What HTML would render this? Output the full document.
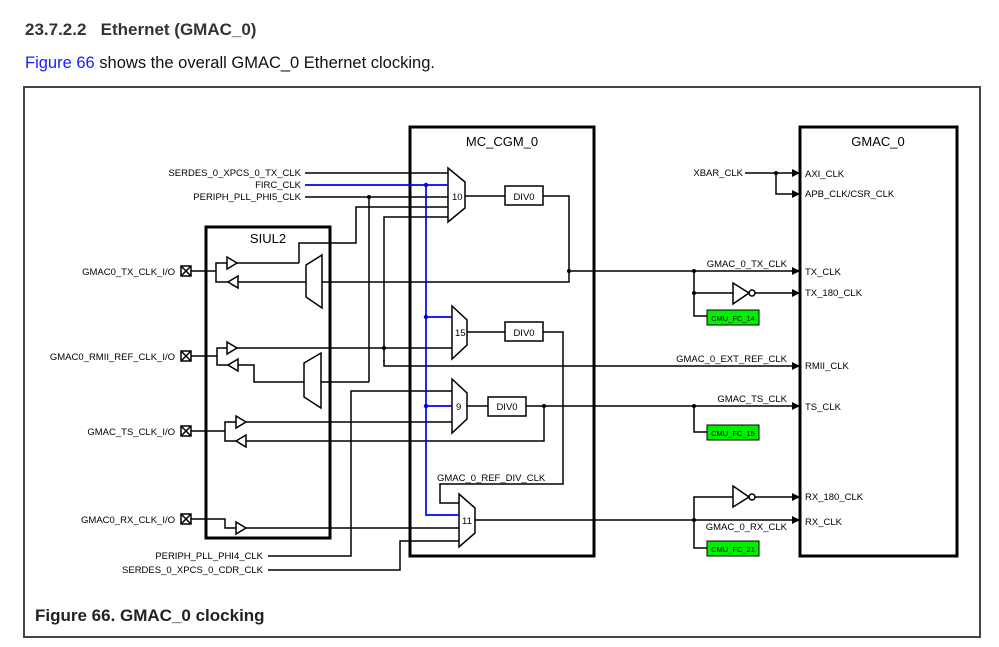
<!DOCTYPE html>
<html><head><meta charset="utf-8"><style>
html,body{margin:0;padding:0;background:#fff;}
body{width:999px;height:647px;overflow:hidden;position:relative;font-family:"Liberation Sans",Arial,sans-serif;}
</style></head><body>
<svg width="999" height="647" viewBox="0 0 999 647" xmlns="http://www.w3.org/2000/svg" style="position:absolute;left:0;top:0" font-family="Liberation Sans, Arial, sans-serif">
<text x="25" y="35" font-size="17" font-weight="bold" fill="#333" xml:space="preserve">23.7.2.2   Ethernet (GMAC_0)</text>
<text x="25" y="68" font-size="16.5" fill="#111"><tspan fill="#1a1aff">Figure 66</tspan> shows the overall GMAC_0 Ethernet clocking.</text>
<rect x="24" y="87" width="956" height="550" fill="none" stroke="#444" stroke-width="2"/>
<text x="35" y="621" font-size="17" font-weight="bold" fill="#222">Figure 66.  GMAC_0 clocking</text>

<rect x="410" y="127" width="184" height="429" fill="none" stroke="#000" stroke-width="3"/>
<text x="502" y="146" font-size="13" text-anchor="middle">MC_CGM_0</text>
<rect x="800" y="127" width="157" height="429" fill="none" stroke="#000" stroke-width="3"/>
<text x="878" y="146" font-size="13" text-anchor="middle">GMAC_0</text>
<rect x="206" y="227" width="124" height="311" fill="none" stroke="#000" stroke-width="3"/>
<text x="268" y="243" font-size="13" text-anchor="middle">SIUL2</text>

<g stroke="#000" stroke-width="1.5" fill="none">
<line x1="305" y1="173" x2="448" y2="173"/>
<line x1="305" y1="197" x2="448" y2="197"/>
<polyline points="299,263 299,243 356,243 356,207 448,207"/>
<polyline points="384,362 384,217 448,217"/>
<line x1="369" y1="197" x2="369" y2="382"/>
<polygon points="448,168 465,182 465,208 448,222" fill="#fff"/>
<line x1="465" y1="196" x2="505" y2="196"/>
<rect x="505" y="186" width="38" height="19"/>
<polyline points="543,196 569,196 569,282 322,282"/>
<line x1="569" y1="271" x2="800" y2="271"/>
<rect x="181" y="266" width="10" height="10"/>
<line x1="181" y1="266" x2="191" y2="276"/><line x1="191" y1="266" x2="181" y2="276"/>
<polyline points="191,271 216,271"/>
<polyline points="227,263 216,263 216,282 228,282"/>
<polygon points="227,257 237,263 227,269"/>
<polygon points="238,276 228,282 238,288"/>
<line x1="237" y1="263" x2="299" y2="263"/>
<line x1="238" y1="282" x2="306" y2="282"/>
<polygon points="306,265 322,255 322,308 306,297"/>
<rect x="181" y="351" width="10" height="10"/>
<line x1="181" y1="351" x2="191" y2="361"/><line x1="191" y1="351" x2="181" y2="361"/>
<line x1="191" y1="356" x2="217" y2="356"/>
<polyline points="227,348 217,348 217,365 228,365"/>
<polygon points="227,342 237,348 227,354"/>
<polygon points="238,359 228,365 238,371"/>
<line x1="237" y1="348" x2="452" y2="348"/>
<polyline points="238,365 254,365 254,382 304,382"/>
<polygon points="304,363 321,353 321,408 304,397"/>
<line x1="321" y1="382" x2="369" y2="382"/>
<polyline points="384,360 384,366 800,366"/>
<polygon points="452,306 467,320 467,345 452,359" fill="#fff"/>
<line x1="467" y1="332" x2="505" y2="332"/>
<rect x="505" y="322" width="38" height="19"/>
<polyline points="543,332 563,332 563,484 440,484 440,503 459,503"/>
<polyline points="452,391 351,391 351,556 268,556"/>
<polygon points="452,379 467,393 467,419 452,433" fill="#fff"/>
<line x1="467" y1="406" x2="488" y2="406"/>
<rect x="488" y="397" width="38" height="19"/>
<line x1="526" y1="406" x2="800" y2="406"/>
<polyline points="544,406 544,441 246,441"/>
<rect x="181" y="426" width="10" height="10"/>
<line x1="181" y1="426" x2="191" y2="436"/><line x1="191" y1="426" x2="181" y2="436"/>
<line x1="191" y1="431" x2="225" y2="431"/>
<polyline points="236,422 225,422 225,441 236,441"/>
<polygon points="236,416 246,422 236,428"/>
<polygon points="246,435 236,441 246,447"/>
<line x1="246" y1="422" x2="452" y2="422"/>
<rect x="181" y="514" width="10" height="10"/>
<line x1="181" y1="514" x2="191" y2="524"/><line x1="191" y1="514" x2="181" y2="524"/>
<polyline points="191,519 225,519 225,528 236,528"/>
<polygon points="236,522 246,528 236,534"/>
<line x1="246" y1="528" x2="459" y2="528"/>
<polyline points="268,570 400,570 400,541 459,541"/>
<polygon points="459,494 475,508 475,533 459,547" fill="#fff"/>
<line x1="475" y1="520" x2="800" y2="520"/>
<line x1="745" y1="173" x2="796" y2="173"/>
<polyline points="776,173 776,194 796,194"/>
<polyline points="694,271 694,316 707,316"/>
<line x1="694" y1="293" x2="733" y2="293"/>
<polygon points="733,283 749,293 733,304"/>
<circle cx="752" cy="293" r="3"/>
<line x1="755" y1="293" x2="796" y2="293"/>
<polyline points="694,406 694,432 707,432"/>
<polyline points="796,497 755,497"/>
<polygon points="733,486 749,497 733,507"/>
<circle cx="752" cy="497" r="3"/>
<polyline points="733,497 694,497 694,548 707,548"/>
</g>
<g stroke="#0000ff" stroke-width="1.7" fill="none">
<line x1="305" y1="185" x2="448" y2="185"/>
<polyline points="426,185 426,515 459,515"/>
<line x1="426" y1="317" x2="452" y2="317"/>
<line x1="426" y1="406" x2="452" y2="406"/>
</g>
<g fill="#0000ff"><circle cx="426" cy="185" r="2.2"/><circle cx="426" cy="317" r="2.2"/><circle cx="426" cy="406" r="2.2"/></g>
<g fill="#000">
<circle cx="369" cy="197" r="2"/><circle cx="384" cy="348" r="2"/><circle cx="569" cy="271" r="2"/>
<circle cx="544" cy="406" r="2"/><circle cx="776" cy="173" r="2"/><circle cx="694" cy="271" r="2"/>
<circle cx="694" cy="293" r="2"/><circle cx="694" cy="406" r="2"/><circle cx="694" cy="520" r="2"/>
<polygon points="792,169 800,173 792,177"/><polygon points="792,190 800,194 792,198"/>
<polygon points="792,267 800,271 792,275"/><polygon points="792,289 800,293 792,297"/>
<polygon points="792,362 800,366 792,370"/><polygon points="792,402 800,406 792,410"/>
<polygon points="792,493 800,497 792,501"/><polygon points="792,516 800,520 792,524"/>
</g>
<g fill="#00ee00" stroke="#000" stroke-width="1">
<rect x="707" y="310" width="52" height="15"/><rect x="707" y="425" width="52" height="15"/><rect x="707" y="541" width="52" height="15"/>
</g>
<g font-size="7.5" text-anchor="middle">
<text x="733" y="321">CMU_FC_14</text><text x="733" y="436">CMU_FC_15</text><text x="733" y="552">CMU_FC_21</text>
</g>
<g font-size="9.5">
<text x="301" y="176" text-anchor="end">SERDES_0_XPCS_0_TX_CLK</text>
<text x="301" y="188" text-anchor="end">FIRC_CLK</text>
<text x="301" y="200" text-anchor="end">PERIPH_PLL_PHI5_CLK</text>
<text x="175" y="275" text-anchor="end">GMAC0_TX_CLK_I/O</text>
<text x="175" y="360" text-anchor="end">GMAC0_RMII_REF_CLK_I/O</text>
<text x="175" y="435" text-anchor="end">GMAC_TS_CLK_I/O</text>
<text x="175" y="523" text-anchor="end">GMAC0_RX_CLK_I/O</text>
<text x="263" y="559" text-anchor="end">PERIPH_PLL_PHI4_CLK</text>
<text x="263" y="573" text-anchor="end">SERDES_0_XPCS_0_CDR_CLK</text>
<text x="452" y="200">10</text><text x="455" y="336">15</text><text x="456" y="410">9</text><text x="462" y="524">11</text>
<text x="524" y="200" text-anchor="middle">DIV0</text><text x="524" y="336" text-anchor="middle">DIV0</text><text x="507" y="410" text-anchor="middle">DIV0</text>
<text x="437" y="481">GMAC_0_REF_DIV_CLK</text>
<text x="743" y="176" text-anchor="end">XBAR_CLK</text>
<text x="787" y="267" text-anchor="end">GMAC_0_TX_CLK</text>
<text x="787" y="362" text-anchor="end">GMAC_0_EXT_REF_CLK</text>
<text x="787" y="402" text-anchor="end">GMAC_TS_CLK</text>
<text x="787" y="530" text-anchor="end">GMAC_0_RX_CLK</text>
<text x="805" y="177">AXI_CLK</text>
<text x="805" y="197">APB_CLK/CSR_CLK</text>
<text x="805" y="275">TX_CLK</text>
<text x="805" y="296">TX_180_CLK</text>
<text x="805" y="369">RMII_CLK</text>
<text x="805" y="410">TS_CLK</text>
<text x="805" y="500">RX_180_CLK</text>
<text x="805" y="525">RX_CLK</text>
</g>
</svg>
</body></html>
